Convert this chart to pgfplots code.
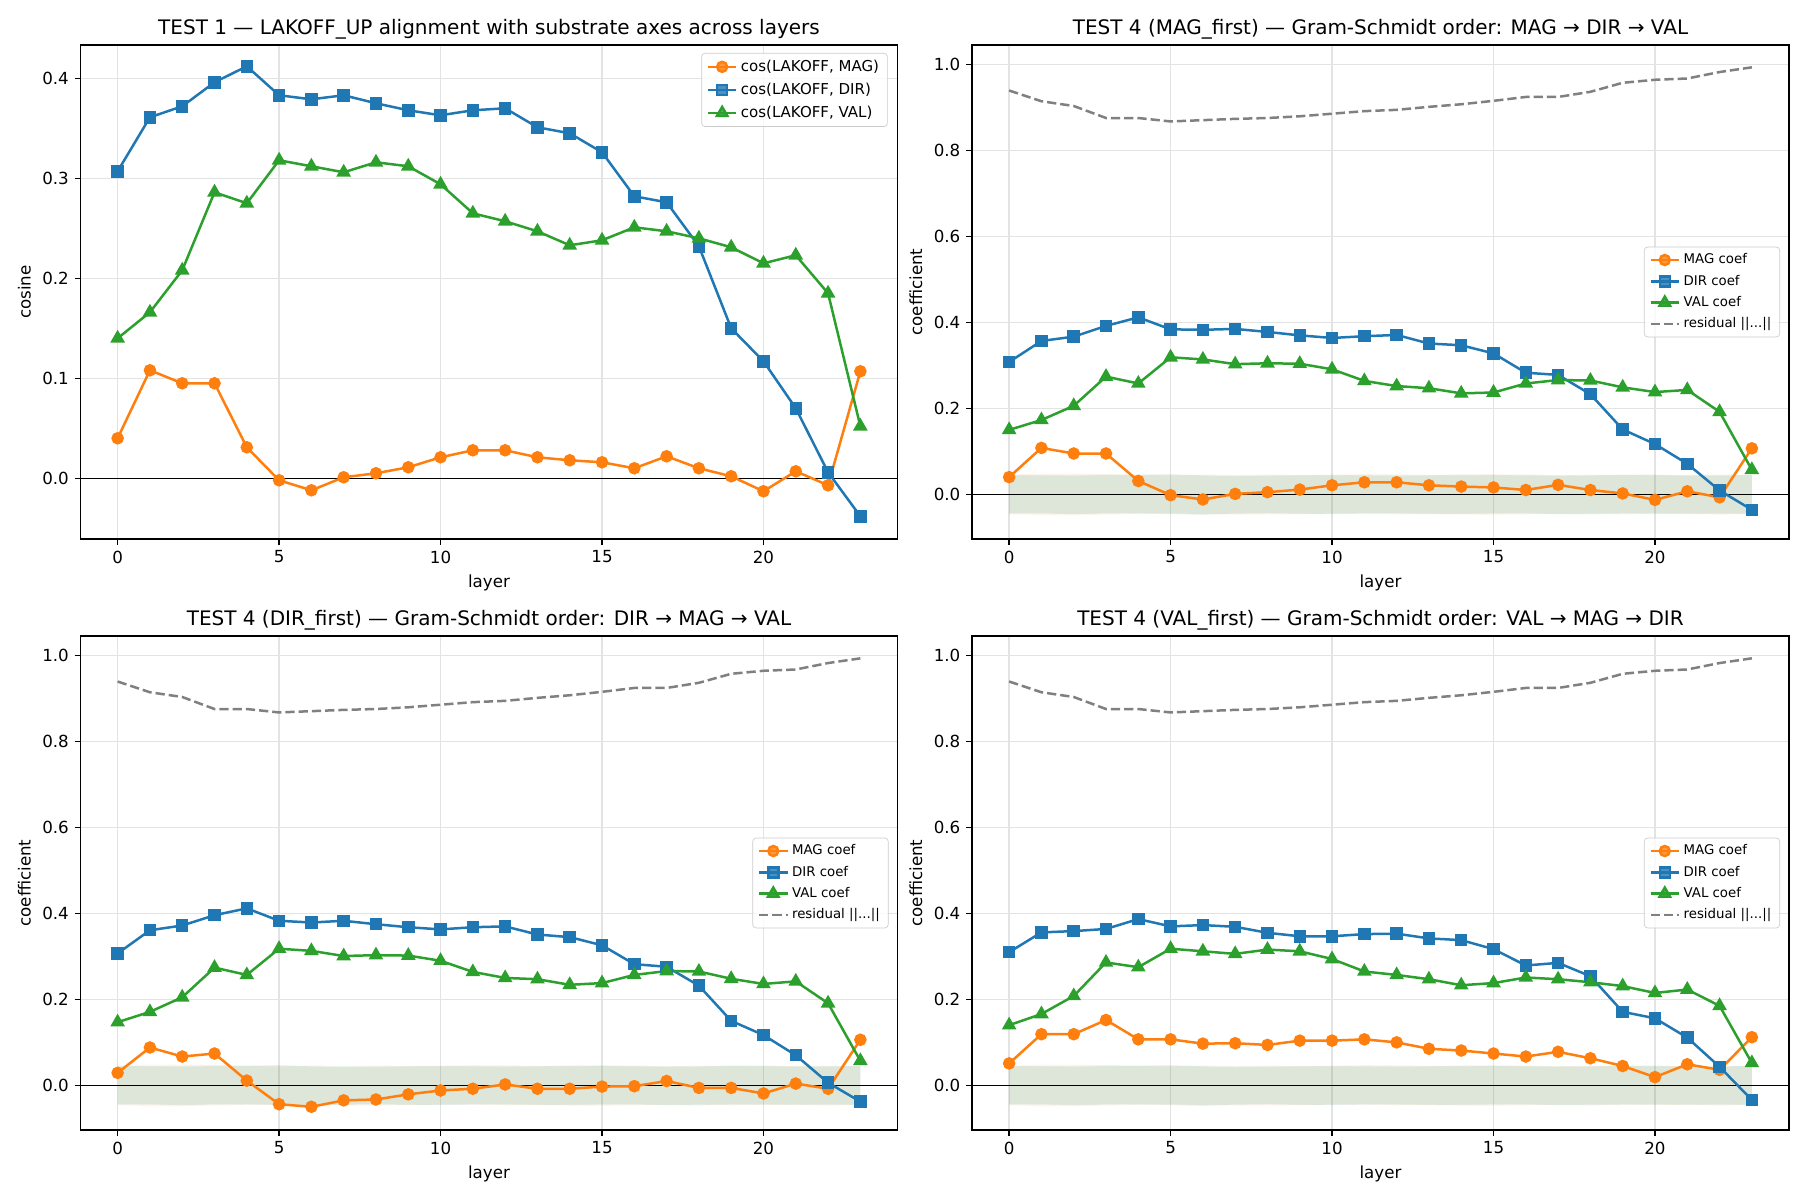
\documentclass[border=0pt]{standalone}
\usepackage{fontspec}
\setmainfont{DejaVu Sans}
\usepackage{pgfplots}
\pgfplotsset{compat=1.18}
\usepackage{pgfplotstable}

\definecolor{tabblue}{HTML}{1F77B4}
\definecolor{taborange}{HTML}{FF7F0E}
\definecolor{tabgreen}{HTML}{2CA02C}
\definecolor{gridgray}{HTML}{E3E3E3}
\definecolor{legedge}{HTML}{CCCCCC}
\definecolor{resgray}{HTML}{808080}

\pgfplotstableread{
x mag dir val
0 0.040 0.307 0.140
1 0.108 0.361 0.166
2 0.095 0.372 0.208
3 0.095 0.396 0.286
4 0.031 0.412 0.275
5 -0.002 0.383 0.318
6 -0.012 0.379 0.312
7 0.001 0.383 0.306
8 0.005 0.375 0.316
9 0.011 0.368 0.312
10 0.021 0.363 0.294
11 0.028 0.368 0.265
12 0.028 0.370 0.257
13 0.021 0.351 0.247
14 0.018 0.345 0.233
15 0.016 0.326 0.238
16 0.010 0.282 0.251
17 0.022 0.276 0.247
18 0.010 0.232 0.240
19 0.002 0.150 0.231
20 -0.013 0.117 0.215
21 0.007 0.070 0.223
22 -0.007 0.006 0.185
23 0.107 -0.038 0.052
}\TabOne

\pgfplotstableread{
x mag dir val
0 0.040 0.308 0.150
1 0.108 0.357 0.173
2 0.095 0.367 0.206
3 0.095 0.392 0.274
4 0.031 0.412 0.258
5 -0.002 0.384 0.319
6 -0.012 0.383 0.314
7 0.001 0.385 0.303
8 0.005 0.378 0.305
9 0.011 0.370 0.304
10 0.021 0.364 0.291
11 0.028 0.368 0.264
12 0.028 0.371 0.252
13 0.021 0.351 0.247
14 0.018 0.347 0.235
15 0.016 0.328 0.237
16 0.010 0.283 0.258
17 0.022 0.278 0.266
18 0.010 0.233 0.265
19 0.002 0.151 0.249
20 -0.013 0.117 0.238
21 0.007 0.071 0.243
22 -0.007 0.009 0.192
23 0.107 -0.036 0.057
}\TabMagFirst

\pgfplotstableread{
x mag dir val
0 0.029 0.307 0.147
1 0.088 0.361 0.171
2 0.067 0.372 0.205
3 0.074 0.396 0.274
4 0.011 0.412 0.257
5 -0.044 0.383 0.318
6 -0.050 0.379 0.313
7 -0.035 0.383 0.301
8 -0.033 0.375 0.303
9 -0.021 0.368 0.302
10 -0.012 0.363 0.290
11 -0.008 0.368 0.264
12 0.002 0.370 0.250
13 -0.008 0.351 0.247
14 -0.008 0.345 0.234
15 -0.003 0.326 0.238
16 -0.002 0.282 0.257
17 0.010 0.276 0.266
18 -0.006 0.232 0.265
19 -0.006 0.150 0.248
20 -0.019 0.117 0.236
21 0.004 0.070 0.242
22 -0.008 0.006 0.191
23 0.106 -0.038 0.057
}\TabDirFirst

\pgfplotstableread{
x mag dir val
0 0.051 0.310 0.140
1 0.119 0.356 0.166
2 0.119 0.359 0.208
3 0.152 0.364 0.286
4 0.107 0.387 0.275
5 0.107 0.370 0.318
6 0.097 0.373 0.312
7 0.098 0.369 0.306
8 0.094 0.355 0.316
9 0.104 0.347 0.312
10 0.104 0.347 0.294
11 0.107 0.352 0.265
12 0.100 0.353 0.257
13 0.085 0.342 0.247
14 0.081 0.338 0.233
15 0.074 0.317 0.238
16 0.067 0.279 0.251
17 0.078 0.285 0.247
18 0.063 0.254 0.240
19 0.045 0.171 0.231
20 0.019 0.156 0.215
21 0.049 0.111 0.223
22 0.036 0.043 0.185
23 0.112 -0.034 0.052
}\TabValFirst

\pgfplotstableread{
x res
0 0.940
1 0.915
2 0.904
3 0.876
4 0.876
5 0.868
6 0.871
7 0.874
8 0.876
9 0.880
10 0.886
11 0.892
12 0.895
13 0.902
14 0.908
15 0.916
16 0.925
17 0.925
18 0.937
19 0.958
20 0.965
21 0.968
22 0.983
23 0.994
}\TabRes

% null bands: polygon outlines (upper edge left to right, lower edge right to left)
\pgfplotstableread{
x y
0 0.046
1 0.048
2 0.048
3 0.047
4 0.045
5 0.046
6 0.044
7 0.043
8 0.044
9 0.045
10 0.046
11 0.047
12 0.046
13 0.045
14 0.046
15 0.047
16 0.045
17 0.044
18 0.046
19 0.045
20 0.044
21 0.045
22 0.046
23 0.045
23 -0.046
22 -0.047
21 -0.046
20 -0.045
19 -0.046
18 -0.045
17 -0.045
16 -0.046
15 -0.048
14 -0.047
13 -0.046
12 -0.046
11 -0.045
10 -0.045
9 -0.046
8 -0.047
7 -0.047
6 -0.046
5 -0.046
4 -0.045
3 -0.047
2 -0.049
1 -0.049
0 -0.046
}\BandO

\pgfplotstableread{
x y
0 0.044
1 0.045
2 0.043
3 0.045
4 0.046
5 0.047
6 0.044
7 0.042
8 0.043
9 0.044
10 0.045
11 0.044
12 0.043
13 0.044
14 0.046
15 0.045
16 0.044
17 0.043
18 0.044
19 0.046
20 0.045
21 0.043
22 0.044
23 0.045
23 -0.045
22 -0.046
21 -0.045
20 -0.044
19 -0.045
18 -0.047
17 -0.046
16 -0.044
15 -0.045
14 -0.046
13 -0.045
12 -0.044
11 -0.045
10 -0.046
9 -0.045
8 -0.044
7 -0.045
6 -0.048
5 -0.046
4 -0.044
3 -0.045
2 -0.046
1 -0.044
0 -0.045
}\BandB

\pgfplotstableread{
x y
0 0.045
1 0.044
2 0.045
3 0.046
4 0.045
5 0.044
6 0.046
7 0.045
8 0.046
9 0.045
10 0.044
11 0.045
12 0.046
13 0.045
14 0.044
15 0.045
16 0.046
17 0.045
18 0.044
19 0.045
20 0.046
21 0.045
22 0.044
23 0.045
23 -0.045
22 -0.044
21 -0.045
20 -0.046
19 -0.044
18 -0.045
17 -0.046
16 -0.045
15 -0.044
14 -0.045
13 -0.046
12 -0.045
11 -0.044
10 -0.045
9 -0.046
8 -0.044
7 -0.045
6 -0.046
5 -0.044
4 -0.045
3 -0.044
2 -0.046
1 -0.045
0 -0.044
}\BandG

\pgfplotsset{
  panel/.style={
    scale only axis, width=490.2pt, height=296.4pt,
    xmin=-1.15, xmax=24.15,
    xtick={0,5,10,15,20},
    tick pos=left,
    tick align=outside, major tick length=3.5pt,
    every tick/.style={black, line width=0.8pt},
    axis line style={line width=0.8pt},
    grid=major, major grid style={gridgray, line width=0.8pt},
    tick label style={font=\fontsize{10}{12}\selectfont},
    label style={font=\fontsize{10}{12}\selectfont},
    xlabel={layer},
    every axis title shift=0pt,
    title style={font=\fontsize{12}{14}\selectfont, anchor=base, yshift=6pt},
    /pgf/number format/assume math mode=true,
    yticklabel style={/pgf/number format/.cd, fixed, fixed zerofill, precision=1},
    xticklabel style={/pgf/number format/.cd, fixed, precision=0},
    legend cell align=left,
    legend style={draw=legedge, rounded corners=2pt, fill=white, fill opacity=0.8, text opacity=1, draw opacity=1, inner xsep=3pt, inner ysep=2pt},
  },
  panelB/.style={panel, ymin=-0.104, ymax=1.046, ytick={0,0.2,0.4,0.6,0.8,1.0}, ylabel={coefficient},
    legend style={at={(0.989,0.5)}, anchor=east, font=\fontsize{8}{9.6}\selectfont, row sep=1.2pt}},
  magS/.style={taborange, line width=1.5pt, mark=*, mark size=3pt},
  dirS/.style={tabblue, line width=1.5pt, mark=square*, mark size=3pt},
  valS/.style={tabgreen, line width=1.5pt, mark=triangle*, mark size=3.6pt},
  resS/.style={resgray, line width=1.5pt, dash pattern=on 5.55pt off 2.4pt},
  bandS/.style={draw=none, fill=#1, fill opacity=0.08, forget plot},
}

\newcommand{\bands}{%
  \addplot[bandS=taborange] table[x=x,y=y]{\BandO} -- cycle;
  \addplot[bandS=tabblue] table[x=x,y=y]{\BandB} -- cycle;
  \addplot[bandS=tabgreen] table[x=x,y=y]{\BandG} -- cycle;
  \addplot[black, line width=0.8pt, forget plot] coordinates {(-1.15,0) (24.15,0)};
}

\newcommand{\coefplots}[1]{%
  \addplot[magS] table[x=x,y=mag]{#1}; \addlegendentry{MAG coef}
  \addplot[dirS] table[x=x,y=dir]{#1}; \addlegendentry{DIR coef}
  \addplot[valS] table[x=x,y=val]{#1}; \addlegendentry{VAL coef}
  \addplot[resS] table[x=x,y=res]{\TabRes}; \addlegendentry{residual ||...||}
}

\begin{document}
\begin{tikzpicture}
\useasboundingbox (0,0) rectangle (1080pt,720pt);

\begin{axis}[panel, at={(48.3pt,693pt)}, anchor=north west,
  ymin=-0.0607, ymax=0.4333, ytick={0,0.1,0.2,0.3,0.4}, ylabel={cosine},
  title={TEST 1 — LAKOFF\_UP alignment with substrate axes across layers},
  legend style={at={(0.988,0.984)}, anchor=north east, font=\fontsize{9}{10.8}\selectfont, row sep=1.5pt}]
  \addplot[black, line width=0.8pt, forget plot] coordinates {(-1.15,0) (24.15,0)};
  \addplot[magS] table[x=x,y=mag]{\TabOne}; \addlegendentry{cos(LAKOFF, MAG)}
  \addplot[dirS] table[x=x,y=dir]{\TabOne}; \addlegendentry{cos(LAKOFF, DIR)}
  \addplot[valS] table[x=x,y=val]{\TabOne}; \addlegendentry{cos(LAKOFF, VAL)}
\end{axis}

\begin{axis}[panelB, at={(583.2pt,693pt)}, anchor=north west,
  title={TEST 4 (MAG\_first) — Gram-Schmidt order: MAG → DIR → VAL}]
  \bands
  \coefplots{\TabMagFirst}
\end{axis}

\begin{axis}[panelB, at={(48.3pt,338.4pt)}, anchor=north west,
  title={TEST 4 (DIR\_first) — Gram-Schmidt order: DIR → MAG → VAL}]
  \bands
  \coefplots{\TabDirFirst}
\end{axis}

\begin{axis}[panelB, at={(583.2pt,338.4pt)}, anchor=north west,
  title={TEST 4 (VAL\_first) — Gram-Schmidt order: VAL → MAG → DIR}]
  \bands
  \coefplots{\TabValFirst}
\end{axis}
\end{tikzpicture}
\end{document}
